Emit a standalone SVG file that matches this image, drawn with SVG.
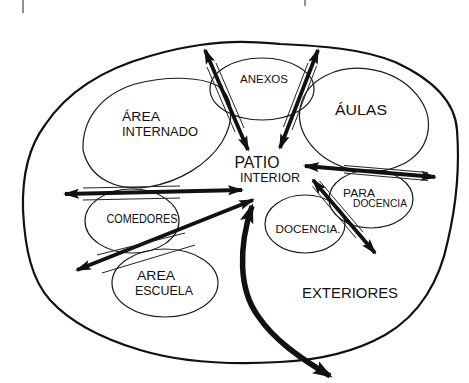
<svg xmlns="http://www.w3.org/2000/svg" width="469" height="383" viewBox="0 0 469 383">
<defs>
<style>
.zone{fill:none;stroke:#1a1a1a;stroke-width:1.2}
.outer{fill:none;stroke:#111;stroke-width:2.2;stroke-linejoin:round}
.arr{fill:none;stroke:#111;stroke-width:3.8;stroke-linecap:butt}
.thin{fill:none;stroke:#222;stroke-width:1}
.lbl{font-family:"Liberation Sans","DejaVu Sans",sans-serif;fill:#111;text-anchor:middle}
</style>
<marker id="ah" viewBox="0 0 16 10" refX="14" refY="5" markerWidth="16" markerHeight="10" markerUnits="userSpaceOnUse" orient="auto-start-reverse">
<path d="M0,0 L16,5 L0,10 L3,5 z" fill="#111"/>
</marker>
<marker id="ahb" viewBox="0 0 20 14" refX="17" refY="7" markerWidth="20" markerHeight="14" markerUnits="userSpaceOnUse" orient="auto-start-reverse">
<path d="M0,0 L20,7 L0,14 L4,7 z" fill="#111"/>
</marker>
</defs>
<rect width="469" height="383" fill="#fff"/>

<g id="boundary">
<path class="outer" d="M200,45 C235,40 255,42 280,44 C320,46 360,48 395,62 C430,78 455,100 457,130 C460,170 455,210 448,240 C440,280 420,315 385,335 C355,352 320,360 280,362 C230,365 180,362 140,350 C100,338 70,322 50,300 C32,280 25,250 23,210 C22,175 30,145 45,125 C65,95 100,70 150,56 C170,50 185,47 200,45 Z"/>
<path class="thin" d="M23,0 L23,13"/>
<path class="thin" d="M305,0 L305,6"/>
</g>

<g id="anexos">
<ellipse class="zone" cx="262" cy="89" rx="52" ry="31"/>
<text class="lbl" x="264" y="83" font-size="11" textLength="48" lengthAdjust="spacingAndGlyphs">ANEXOS</text>
</g>

<g id="aulas">
<ellipse class="zone" cx="364" cy="120" rx="65" ry="51" transform="rotate(12 364 120)"/>
<text class="lbl" x="361" y="115" font-size="14" textLength="52" lengthAdjust="spacingAndGlyphs">ÁULAS</text>
</g>

<g id="area-internado">
<path class="zone" d="M83,150 C82,120 100,95 135,84 C165,76 200,76 218,86 C235,98 234,122 222,142 C208,164 180,182 148,187 C118,191 90,180 83,150 Z"/>
<text class="lbl" x="141" y="121" font-size="12" textLength="38" lengthAdjust="spacingAndGlyphs">ÁREA</text>
<text class="lbl" x="160" y="136" font-size="12" textLength="76" lengthAdjust="spacingAndGlyphs">INTERNADO</text>
</g>

<g id="patio-interior">
<text class="lbl" x="257" y="168" font-size="16" textLength="45" lengthAdjust="spacingAndGlyphs">PATIO</text>
<text class="lbl" x="270" y="182" font-size="13" textLength="60" lengthAdjust="spacingAndGlyphs">INTERIOR</text>
</g>

<g id="comedores">
<ellipse class="zone" cx="132" cy="221" rx="47" ry="32"/>
<text class="lbl" x="142" y="223" font-size="12" textLength="71" lengthAdjust="spacingAndGlyphs">COMEDORES</text>
</g>

<g id="area-escuela">
<ellipse class="zone" cx="165" cy="283" rx="53" ry="34"/>
<text class="lbl" x="156" y="280" font-size="13" textLength="38" lengthAdjust="spacingAndGlyphs">AREA</text>
<text class="lbl" x="164" y="295" font-size="13" textLength="58" lengthAdjust="spacingAndGlyphs">ESCUELA</text>
</g>

<g id="docencia">
<ellipse class="zone" cx="305" cy="224" rx="40" ry="29"/>
<text class="lbl" x="308" y="233" font-size="11" textLength="65" lengthAdjust="spacingAndGlyphs">DOCENCIA.</text>
</g>

<g id="para-docencia">
<ellipse class="zone" cx="371" cy="199" rx="42" ry="29"/>
<text class="lbl" x="359" y="197" font-size="11" textLength="32" lengthAdjust="spacingAndGlyphs">PARA</text>
<text class="lbl" x="380" y="207" font-size="10" textLength="54" lengthAdjust="spacingAndGlyphs">DOCENCIA</text>
</g>

<g id="exteriores">
<text class="lbl" x="350" y="298" font-size="15" textLength="96" lengthAdjust="spacingAndGlyphs">EXTERIORES</text>
</g>

<g id="connectors">
<line class="arr" x1="205" y1="50" x2="248" y2="150" marker-start="url(#ah)" marker-end="url(#ah)"/>
<line class="thin" x1="216" y1="63" x2="244" y2="128"/>
<line class="thin" x1="207" y1="67" x2="235" y2="132"/>

<line class="arr" x1="318" y1="50" x2="280" y2="148" marker-start="url(#ah)" marker-end="url(#ah)"/>
<line class="thin" x1="316.5" y1="66" x2="292" y2="130"/>
<line class="thin" x1="308" y1="63" x2="283.5" y2="127"/>

<line class="arr" x1="305" y1="166" x2="435" y2="177" marker-start="url(#ah)" marker-end="url(#ah)"/>
<line class="thin" x1="344" y1="173" x2="428" y2="180.5"/>
<line class="thin" x1="344" y1="165.5" x2="428" y2="172.5"/>

<line class="arr" x1="313" y1="180" x2="375" y2="253" marker-start="url(#ah)" marker-end="url(#ah)"/>
<line class="thin" x1="319.5" y1="181" x2="363" y2="232"/>
<line class="thin" x1="312.5" y1="186.5" x2="356" y2="238"/>

<line class="arr" x1="65" y1="194" x2="242" y2="190" marker-start="url(#ah)" marker-end="url(#ah)"/>
<line class="thin" x1="83" y1="188" x2="180" y2="186"/>
<line class="thin" x1="83" y1="200" x2="180" y2="198"/>

<line class="arr" x1="77" y1="270" x2="253" y2="200" marker-start="url(#ah)" marker-end="url(#ah)"/>
<line class="thin" x1="97" y1="255" x2="185" y2="233"/>
<line class="thin" x1="102" y1="273" x2="195" y2="245"/>

<path class="arr" style="stroke-width:5.5" d="M252,206 C238,248 239,290 258,316 C274,340 300,358 330,376" marker-start="url(#ahb)" marker-end="url(#ahb)"/>
</g>
</svg>
